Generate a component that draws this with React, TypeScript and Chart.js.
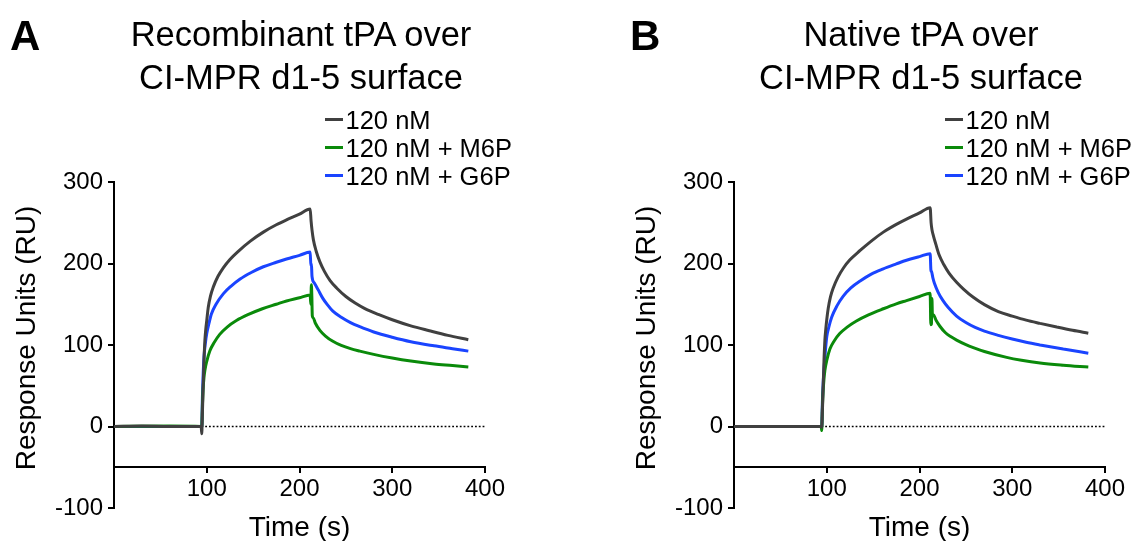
import React, { useEffect, useRef } from "react";
import { Chart, registerables } from "chart.js";

Chart.register(...registerables);

const FONT = '"Liberation Sans", Arial, Helvetica, sans-serif';

// ---- tick labels / axis text ----
const xTicks = [100, 200, 300, 400];
const yTicks = [-100, 0, 100, 200, 300];
const xTitle = "Time (s)";
const yTitle = "Response Units (RU)";

// ---- legend ----
const seriesLabels = ["120 nM", "120 nM + M6P", "120 nM + G6P"];
const seriesColors = ["#404040", "#0a8a0a", "#1a44ff"];

// ---- panel A: recombinant tPA  ([time s, RU]) ----
const recombinant_120nM: number[][] = [
  [0, 0], [30, 0.5], [60, 0], [94, 0], [94.6, -9], [95.2, 12], [96, 44], [97, 80], [98, 106], [99, 120],
  [100, 130], [101.6, 146], [104, 160], [107, 171], [112, 184], [118, 195], [125, 205], [134, 215],
  [147, 227.5], [161, 238.5], [175, 247.5], [186, 253.5], [200, 260.5], [211.5, 267], [212.5, 252],
  [213.5, 241], [215, 229], [218, 215], [222, 202], [227, 190], [233, 179], [240, 170], [250, 159.5],
  [260, 151.5], [270, 145], [285, 137.5], [300, 131], [320, 123.5], [340, 117.5], [360, 111.8], [382, 106.5],
];
const recombinant_M6P: number[][] = [
  [0, 0], [60, 0.5], [94, 0], [94.6, -1], [95.3, 25], [96, 45], [97, 60], [98, 69], [100, 80],
  [103.4, 93], [108, 103], [114, 113], [122, 122], [132, 130], [145, 137.5], [160, 144.5], [175, 150],
  [186, 154], [200, 158], [211.5, 161.5], [212.2, 150], [212.8, 174], [213.3, 160], [213.8, 136],
  [215, 133], [217, 127], [222, 118], [228, 111], [236, 104.5], [245, 99.5], [255, 95.5], [265, 92.5],
  [280, 88.5], [300, 84], [320, 80.3], [345, 76.8], [365, 74.8], [382, 73],
];
const recombinant_G6P: number[][] = [
  [0, 0], [60, 0], [94, 0], [94.6, -2], [95.3, 35], [96, 60], [97, 85], [98.5, 102], [100, 114],
  [102.5, 127], [105, 138], [110, 150], [118, 163], [126, 172], [136, 181], [148, 189], [161, 196],
  [175, 201.5], [186, 205.5], [200, 210], [211.5, 214], [212.3, 197], [212.8, 200], [213.5, 184],
  [216, 176], [220, 168], [225, 157.5], [230, 149.5], [236, 141.5], [245, 134], [255, 127.5], [265, 122.5],
  [280, 116], [300, 109.5], [320, 104], [345, 99], [365, 95.5], [382, 92.5],
];

// ---- panel B: native tPA ([time s, RU]) ----
const native_120nM: number[][] = [
  [0, 0], [60, 0], [94, 0], [94.6, -1], [95.2, 15], [96, 44], [97, 80], [98, 106], [99, 120],
  [100, 131], [101.6, 145], [104, 159], [107, 170], [112, 183], [118, 194.5], [125, 204.5], [136, 216],
  [148, 227.5], [161, 238.5], [175, 248], [186, 254.5], [200, 262], [211.5, 268.5], [212.5, 250],
  [213.5, 241], [215, 234], [217.5, 224], [221, 211], [226, 199], [232, 188], [240, 177], [248, 168],
  [258, 158.5], [270, 149.5], [285, 141], [300, 135.5], [315, 130.5], [330, 126.5], [348, 122],
  [365, 118], [382, 114.5],
];
const native_M6P: number[][] = [
  [0, 0], [60, 0], [94, 0], [94.6, -5], [95.2, 20], [96, 42], [97, 58], [98, 69], [100, 81],
  [103.4, 95], [108, 105], [114, 114], [122, 122], [132, 129.5], [145, 137], [161, 144.5],
  [175, 150.5], [186, 154.5], [200, 159.5], [211.5, 163.5], [212.2, 125], [212.9, 126], [213.4, 157],
  [213.9, 138], [215, 137], [218, 130], [222, 123], [228, 115], [234, 110], [240, 106], [250, 100.5],
  [258, 96.8], [270, 92], [294, 84.8], [310, 81.3], [330, 78], [355, 75.3], [382, 73],
];
const native_G6P: number[][] = [
  [0, 0], [60, 0], [94, 0], [94.6, -1], [95.3, 30], [96, 50], [98, 85], [100, 110], [102.5, 123],
  [105.3, 134], [111, 148], [117.8, 160], [126, 170], [136, 178.5], [148, 187], [161, 193.5],
  [175, 199.5], [186, 204], [200, 208.5], [211.5, 212], [212.3, 192], [213, 190], [214.5, 182],
  [216, 176], [220, 165], [225, 155], [231, 146], [240, 135.5], [250, 127.5], [260, 121.5], [270, 117],
  [285, 111.8], [300, 107.3], [315, 103.3], [330, 100], [355, 95], [382, 90],
];

const zeroLine: number[][] = [[0, 0], [400, 0]];

const toXY = (arr: number[][]) => arr.map(([x, y]) => ({ x, y }));

const axisTitlePlugin = {
  id: "axisTitlePlugin",
  afterDraw(chart: any) {
    const { ctx, chartArea: a } = chart;
    ctx.save();
    ctx.fillStyle = "#000";
    ctx.font = `28px ${FONT}`;
    ctx.textAlign = "center";
    ctx.textBaseline = "alphabetic";
    ctx.fillText(xTitle, (a.left + a.right) / 2, a.bottom + 27.5);
    ctx.translate(a.left - 79, (a.top + a.bottom) / 2 - 7);
    ctx.rotate(-Math.PI / 2);
    ctx.fillText(yTitle, 0, 0);
    ctx.restore();
  },
};

type PanelProps = {
  left: number;
  width: number;
  letter: string;
  titleLines: string[];
  series: number[][][];
};

function Panel({ left, width, letter, titleLines, series }: PanelProps) {
  const ref = useRef<HTMLCanvasElement | null>(null);

  useEffect(() => {
    if (!ref.current) return;
    const mk = (i: number) => ({
      label: seriesLabels[i],
      data: toXY(series[i]),
      borderColor: seriesColors[i],
      backgroundColor: seriesColors[i],
      borderWidth: 3,
      pointRadius: 0,
      fill: false,
      cubicInterpolationMode: "monotone" as const,
      borderJoinStyle: "bevel" as const,
    });
    const chart = new Chart(ref.current, {
      type: "line",
      data: {
        datasets: [
          mk(0),
          mk(1),
          mk(2),
          {
            label: "zero",
            data: toXY(zeroLine),
            borderColor: "#000",
            borderWidth: 1.6,
            borderDash: [1.8, 2],
            pointRadius: 0,
            fill: false,
          } as any,
        ],
      },
      options: {
        animation: false,
        responsive: false,
        maintainAspectRatio: false,
        events: [],
        layout: { padding: { left: 0, top: 182, right: width - 485, bottom: 541 - 508 } },
        plugins: { legend: { display: false }, tooltip: { enabled: false }, title: { display: false } },
        scales: {
          x: {
            type: "linear",
            min: 0,
            max: 400,
            position: { y: -50 } as any,
            afterBuildTicks: (s: any) => {
              s.ticks = xTicks.map((v) => ({ value: v }));
            },
            ticks: {
              color: "#000",
              font: { family: FONT, size: 24 },
              padding: 3,
              maxRotation: 0,
              autoSkip: false,
            },
            grid: { display: true, drawOnChartArea: false, drawTicks: true, tickLength: 5, color: "#000", lineWidth: 2 },
            border: { display: true, color: "#000", width: 2 },
          },
          y: {
            type: "linear",
            min: -100,
            max: 300,
            position: "left",
            afterBuildTicks: (s: any) => {
              s.ticks = yTicks.map((v) => ({ value: v }));
            },
            afterFit: (s: any) => {
              s.width = 114;
            },
            ticks: {
              color: "#000",
              font: { family: FONT, size: 24 },
              padding: 5,
              autoSkip: false,
            },
            grid: { display: true, drawOnChartArea: false, drawTicks: true, tickLength: 6, color: "#000", lineWidth: 2 },
            border: { display: true, color: "#000", width: 2 },
          },
        },
      } as any,
      plugins: [axisTitlePlugin],
    });
    return () => chart.destroy();
  }, [width, series]);

  return (
    <div style={{ position: "absolute", left, top: 0, width, height: 541 }}>
      <canvas ref={ref} width={width} height={541} style={{ position: "absolute", left: 0, top: 0, width, height: 541, display: "block" }} />
      <div
        style={{
          position: "absolute",
          left: 10,
          top: 14.5,
          fontFamily: FONT,
          fontWeight: "bold",
          fontSize: 42,
          lineHeight: "42px",
          color: "#000",
        }}
      >
        {letter}
      </div>
      <div
        style={{
          position: "absolute",
          left: 0,
          top: 12.5,
          width: 602,
          textAlign: "center",
          fontFamily: FONT,
          fontSize: 34.5,
          lineHeight: "43px",
          color: "#000",
          whiteSpace: "nowrap",
        }}
      >
        {titleLines.map((t, i) => (
          <div key={i}>{t}</div>
        ))}
      </div>
      <div style={{ position: "absolute", left: 325, top: 105.5, fontFamily: FONT, fontSize: 25.5, color: "#000" }}>
        {seriesLabels.map((lab, i) => (
          <div key={i} style={{ display: "flex", alignItems: "center", height: 28, lineHeight: "28px", whiteSpace: "nowrap" }}>
            <span style={{ display: "inline-block", width: 18, height: 3, background: seriesColors[i], marginRight: 2.5 }} />
            <span>{lab}</span>
          </div>
        ))}
      </div>
    </div>
  );
}

const seriesA = [recombinant_120nM, recombinant_M6P, recombinant_G6P];
const seriesB = [native_120nM, native_M6P, native_G6P];

export default function App() {
  return (
    <div style={{ position: "fixed", left: 0, top: 0, width: 1147, height: 541, background: "#fff", overflow: "hidden" }}>
      <Panel left={0} width={620} letter="A" titleLines={["Recombinant tPA over", "CI-MPR d1-5 surface"]} series={seriesA} />
      <Panel left={620} width={527} letter="B" titleLines={["Native tPA over", "CI-MPR d1-5 surface"]} series={seriesB} />
    </div>
  );
}
